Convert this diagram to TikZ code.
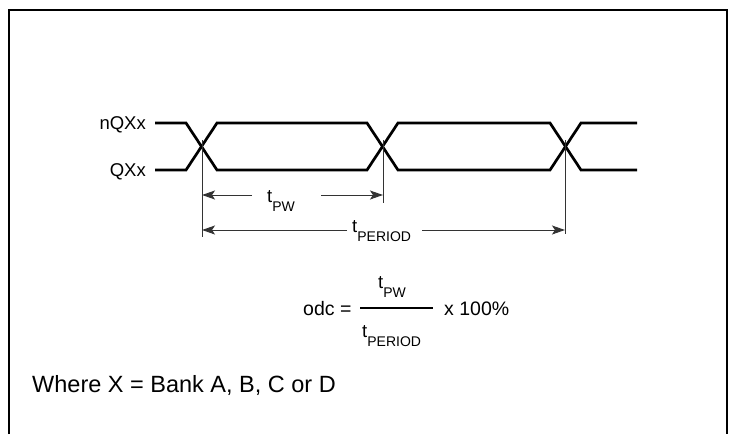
\documentclass[tikz,border=0pt]{standalone}
\usepackage{fontspec}
\setmainfont{Liberation Sans}
\usetikzlibrary{arrows.meta}
\newcommand\tsb[2][14]{t\raisebox{-9pt}{\fontsize{#1}{#1}\selectfont #2}}
\begin{document}
\begin{tikzpicture}[x=1pt,y=-1pt,
  wave/.style={line width=2.7pt, line join=miter},
  tick/.style={line width=1pt, draw=black!80},
  dim/.style={line width=1pt, draw=black!80, -{Stealth[length=13pt,width=9pt,inset=3pt]}},
  lbl/.style={font=\fontsize{18.5}{20}\selectfont, inner sep=0pt},
  flbl/.style={font=\fontsize{19.5}{21}\selectfont, inner sep=0pt},
  frame/.style={line width=2.2pt}]
\useasboundingbox (0,0) rectangle (735,434);
% frame
\coordinate (fBL) at (9,434); \coordinate (fTL) at (9,10);
\coordinate (fTR) at (727,10); \coordinate (fBR) at (727,434);
\draw[frame] (fBL) -- (fTL) -- (fTR) -- (fBR);
% waveforms
\draw[wave] (155,123) -- (186,123) -- (217,170) -- (367,170) -- (398,123) -- (550,123) -- (581,170) -- (637,170);
\draw[wave] (155,170) -- (186,170) -- (217,123) -- (367,123) -- (398,170) -- (550,170) -- (581,123) -- (637,123);
\node[lbl, anchor=base east] (nq) at (146,129.5) {nQXx};
\node[lbl, anchor=base east] (q) at (146,176.5) {QXx};
% ticks
\coordinate (c1top) at (202,140); \coordinate (c1bot) at (202,237);
\coordinate (c2top) at (383,140); \coordinate (c2bot) at (383,203);
\coordinate (c3top) at (565,140); \coordinate (c3bot) at (565,234);
\draw[tick] (c1top) -- (c1bot);
\draw[tick] (c2top) -- (c2bot);
\draw[tick] (c3top) -- (c3bot);
% t_PW
\coordinate (pwA) at (202,195); \coordinate (pwB) at (383,195);
\coordinate (pwL) at (252,195); \coordinate (pwR) at (321,195);
\draw[dim] (pwL) -- (pwA);
\draw[dim] (pwR) -- (pwB);
\node[lbl, anchor=base west] (pw) at (267,202) {\tsb{PW}};
% t_PERIOD
\coordinate (peA) at (202,230); \coordinate (peB) at (565,230);
\coordinate (peL) at (347,230); \coordinate (peR) at (422,230);
\draw[dim] (peL) -- (peA);
\draw[dim] (peR) -- (peB);
\node[lbl, anchor=base west] (pe) at (352,232) {\tsb{PERIOD}};
% formula
\node[flbl, anchor=base west] (odc) at (303,315) {odc =};
\coordinate (barL) at (360,308); \coordinate (barR) at (433,308);
\draw[line width=1.1pt] (barL) -- (barR);
\node[lbl, anchor=base west] (num) at (378,288) {\tsb{PW}};
\node[lbl, anchor=base west] (den) at (362,337) {\tsb{PERIOD}};
\node[flbl, anchor=base west] (pct) at (444,315) {x 100\%};
% note
\node[font=\fontsize{23.5}{25}\selectfont, inner sep=0pt, anchor=base west] (where) at (32,392) {Where X = Bank A, B, C or D};
\end{tikzpicture}
\end{document}
